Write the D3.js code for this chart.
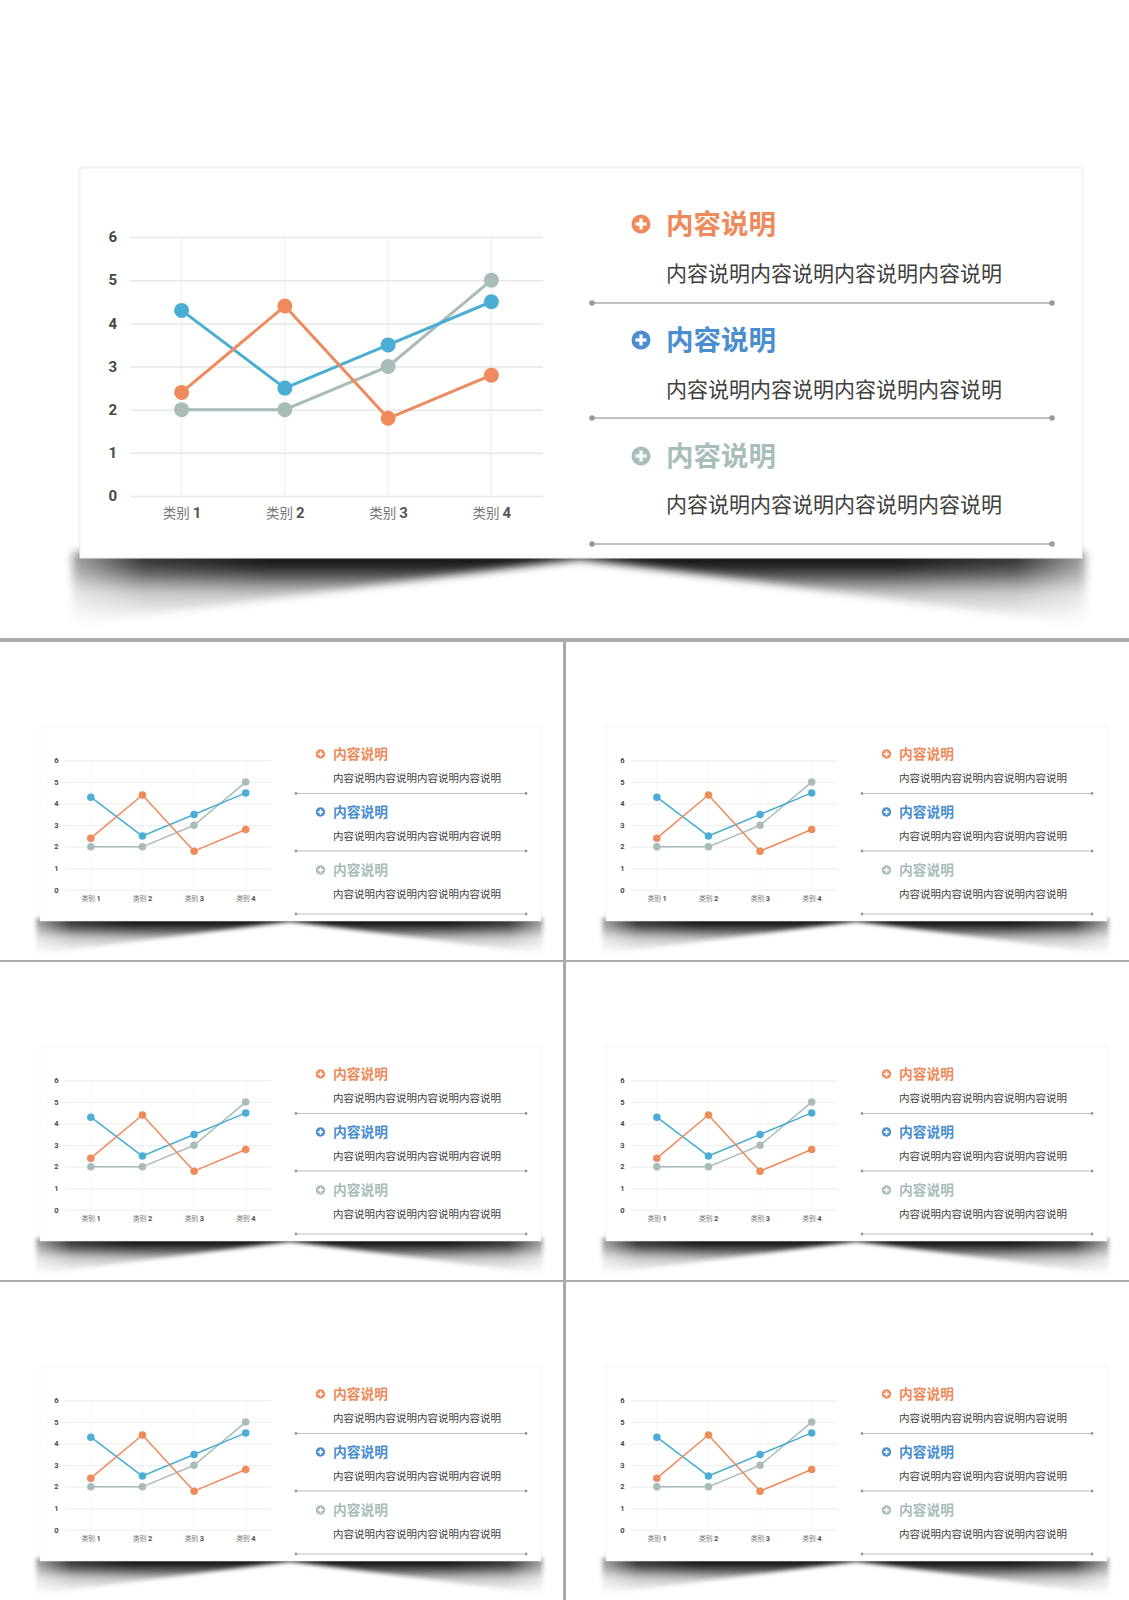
<!DOCTYPE html>
<html><head><meta charset="utf-8">
<script src="https://cdn.jsdelivr.net/npm/d3@7"></script>
<style>html,body{margin:0;padding:0;background:#fff;} svg{display:block}</style>
</head><body><svg id="c" width="1129" height="1600"></svg>
<script>
// ---------- data ----------
const categories = ["类别 1", "类别 2", "类别 3", "类别 4"];
const seriesBlue = [4.3, 2.5, 3.5, 4.5];
const seriesOrange = [2.4, 4.4, 1.8, 2.8];
const seriesGray = [2.0, 2.0, 3.0, 5.0];
const yTicks = [0, 1, 2, 3, 4, 5, 6];
const itemTitles = ["内容说明", "内容说明", "内容说明"];
const itemBodies = ["内容说明内容说明内容说明内容说明", "内容说明内容说明内容说明内容说明", "内容说明内容说明内容说明内容说明"];

// ---------- styles ----------
const lineColors = {gray: "#A9BCBA", blue: "#4AAED4", orange: "#EE8A5C"};
const titleColors = ["#EE8A5C", "#4A8ED0", "#A9BDBA"];
const series = [
  {key: "gray", values: seriesGray},
  {key: "blue", values: seriesBlue},
  {key: "orange", values: seriesOrange}
];
const cjk = "'Noto Sans CJK SC','Noto Sans',sans-serif";
const numFont = "'Liberation Sans Narrow','Roboto','DejaVu Sans Condensed',sans-serif";

const svg = d3.select("#c");
const defs = svg.append("defs");
const blur = defs.append("filter").attr("id", "shBlur")
  .attr("x", "-10%").attr("y", "-50%").attr("width", "120%").attr("height", "200%");
blur.append("feGaussianBlur").attr("stdDeviation", 4);
const grad = defs.append("linearGradient").attr("id", "shGrad")
  .attr("x1", 0).attr("y1", 0).attr("x2", 0).attr("y2", 1);
grad.append("stop").attr("offset", 0).attr("stop-color", "#000").attr("stop-opacity", 1);
grad.append("stop").attr("offset", 0.22).attr("stop-color", "#000").attr("stop-opacity", 0.82);
grad.append("stop").attr("offset", 0.55).attr("stop-color", "#000").attr("stop-opacity", 0.25);
grad.append("stop").attr("offset", 1).attr("stop-color", "#000").attr("stop-opacity", 0);
// horizontal fade mask
const mg = defs.append("linearGradient").attr("id", "mGrad")
  .attr("x1", 0).attr("y1", 0).attr("x2", 1).attr("y2", 0);
[[0, 0.3], [0.08, 0.85], [0.2, 1], [0.8, 1], [0.92, 0.85], [1, 0.3]].forEach(([o, a]) =>
  mg.append("stop").attr("offset", o).attr("stop-color", "#fff").attr("stop-opacity", a));
defs.append("mask").attr("id", "shMask").attr("maskContentUnits", "userSpaceOnUse")
  .append("rect").attr("x", 60).attr("y", 540).attr("width", 1040).attr("height", 100)
  .attr("fill", "url(#mGrad)");
const cardF = defs.append("filter").attr("id", "cardF")
  .attr("x", "-5%").attr("y", "-5%").attr("width", "110%").attr("height", "110%");
cardF.append("feDropShadow").attr("dx", 0).attr("dy", 0).attr("stdDeviation", 1.5)
  .attr("flood-color", "#000").attr("flood-opacity", 0.08);

// ---------- one slide ----------
function drawSlide(g) {
  const card = {x: 80, y: 168, w: 1002, h: 390};
  // curved shadow under the card
  g.append("g").attr("mask", "url(#shMask)").append("path")
    .attr("d", "M72,552 H1086 V625 Q830,590 580,559 Q330,590 72,625 Z")
    .attr("fill", "url(#shGrad)")
    .attr("filter", "url(#shBlur)");
  g.append("rect").attr("x", card.x).attr("y", card.y).attr("width", card.w).attr("height", card.h)
    .attr("fill", "#fff").attr("stroke", "#eeeeee").attr("stroke-width", 1)
    .attr("filter", "url(#cardF)");

  const x = d3.scalePoint().domain(categories).range([130, 543]).padding(0.5);
  const y = d3.scaleLinear().domain([0, 6]).range([496, 237]);

  // vertical grid lines
  g.append("g").selectAll("line").data(categories).join("line")
    .attr("x1", d => x(d)).attr("x2", d => x(d))
    .attr("y1", y(6)).attr("y2", y(0))
    .attr("stroke", "#f1f1f1").attr("stroke-width", 1.2);

  // horizontal grid + y labels
  const ya = g.append("g").attr("transform", "translate(130,0)")
    .call(d3.axisLeft(y).tickValues(yTicks).tickFormat(d3.format("d"))
      .tickSizeInner(-413).tickSizeOuter(0).tickPadding(13));
  ya.select(".domain").remove();
  ya.selectAll(".tick line").attr("stroke", "#e7e7e7").attr("stroke-width", 1.5);
  ya.selectAll(".tick text").attr("fill", "#484848").attr("font-family", numFont)
    .attr("font-weight", "bold").attr("font-size", 15);

  // x labels
  const xa = g.append("g").attr("transform", "translate(0,496)")
    .call(d3.axisBottom(x).tickSize(0).tickPadding(15));
  xa.select(".domain").remove();
  xa.selectAll(".tick text").each(function(d) {
    const t = d3.select(this).text("");
    const parts = d.split(" ");
    t.append("tspan").text(parts[0] + " ").attr("font-family", cjk).attr("fill", "#777").attr("font-size", 13.5);
    t.append("tspan").text(parts[1]).attr("font-family", numFont).attr("font-weight", "bold")
      .attr("fill", "#555").attr("font-size", 15);
  });

  // lines + markers
  const line = d3.line().x((v, i) => x(categories[i])).y(v => y(v));
  series.forEach(s => {
    g.append("path").datum(s.values).attr("d", line)
      .attr("fill", "none").attr("stroke", lineColors[s.key]).attr("stroke-width", 3)
      .attr("stroke-linejoin", "round");
    g.append("g").selectAll("circle").data(s.values).join("circle")
      .attr("cx", (v, i) => x(categories[i])).attr("cy", v => y(v)).attr("r", 7.5)
      .attr("fill", lineColors[s.key]);
  });

  // right panel items
  const titleY = [224, 340, 456];
  const bodyY = [273, 389, 504];
  const sepY = [303, 418, 544];
  itemTitles.forEach((t, i) => {
    const c = titleColors[i];
    const ic = g.append("g").attr("transform", `translate(641,${titleY[i]})`);
    ic.append("circle").attr("r", 9.5).attr("fill", c);
    ic.append("rect").attr("x", -5.5).attr("y", -1.6).attr("width", 11).attr("height", 3.2).attr("fill", "#fff");
    ic.append("rect").attr("x", -1.6).attr("y", -5.5).attr("width", 3.2).attr("height", 11).attr("fill", "#fff");
    g.append("text").attr("x", 666).attr("y", titleY[i]).attr("dy", "0.36em")
      .attr("font-family", cjk).attr("font-weight", "bold").attr("font-size", 27.5)
      .attr("fill", c).text(t);
    g.append("text").attr("x", 666).attr("y", bodyY[i]).attr("dy", "0.36em")
      .attr("font-family", cjk).attr("font-size", 21).attr("fill", "#404040").text(itemBodies[i]);
    g.append("line").attr("x1", 592).attr("x2", 1052).attr("y1", sepY[i]).attr("y2", sepY[i])
      .attr("stroke", "#aaaaaa").attr("stroke-width", 1.5);
    [592, 1052].forEach(px => g.append("circle").attr("cx", px).attr("cy", sepY[i]).attr("r", 2.8).attr("fill", "#999"));
  });
}

// large slide
drawSlide(svg.append("g"));

// dividers
const divColor = "#ABABAB";
svg.append("rect").attr("x", 0).attr("y", 638).attr("width", 1129).attr("height", 4).attr("fill", divColor);
svg.append("rect").attr("x", 0).attr("y", 960).attr("width", 1129).attr("height", 2).attr("fill", divColor);
svg.append("rect").attr("x", 0).attr("y", 1280).attr("width", 1129).attr("height", 2).attr("fill", divColor);
svg.append("rect").attr("x", 563).attr("y", 642).attr("width", 3).attr("height", 958).attr("fill", divColor);

// six thumbnails
const thumbs = [[0, 642], [566, 642], [0, 962], [566, 962], [0, 1282], [566, 1282]];
thumbs.forEach(([ox, oy]) => {
  drawSlide(svg.append("g").attr("transform", `translate(${ox},${oy}) scale(0.5)`));
});
</script></body></html>
